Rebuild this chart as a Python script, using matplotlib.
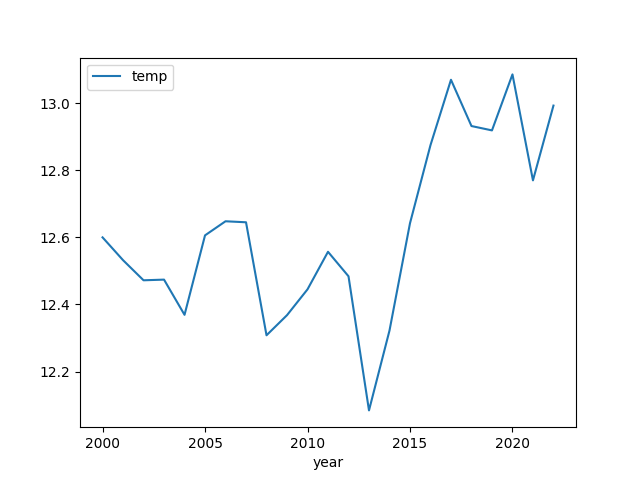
import matplotlib
matplotlib.use("Agg")
import matplotlib.pyplot as plt
import pandas as pd

years = list(range(2000, 2023))
temps = [12.600, 12.532, 12.472, 12.474, 12.369, 12.606, 12.648, 12.645,
         12.308, 12.368, 12.445, 12.557, 12.484, 12.084, 12.322, 12.642,
         12.875, 13.070, 12.932, 12.919, 13.086, 12.770, 12.993]

df = pd.DataFrame({"year": years, "temp": temps})

fig, ax = plt.subplots(figsize=(6.4, 4.8), dpi=100)
df.plot(x="year", y="temp", ax=ax)
fig.savefig("out.png")
